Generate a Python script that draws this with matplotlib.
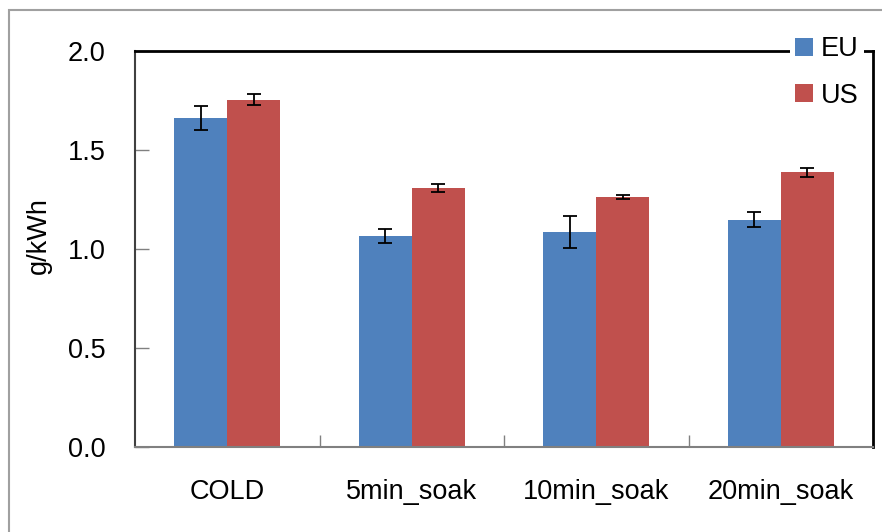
import matplotlib
matplotlib.use('Agg')
import matplotlib.pyplot as plt
import matplotlib.patches as patches
import numpy as np

plt.rcParams['font.family'] = ['Liberation Sans', 'DejaVu Sans']

categories = ['COLD', '5min_soak', '10min_soak', '20min_soak']
eu_values = [1.66, 1.065, 1.085, 1.148]
eu_errors = [0.06, 0.035, 0.08, 0.038]
us_values = [1.755, 1.31, 1.265, 1.388]
us_errors = [0.03, 0.02, 0.01, 0.023]

fs = 19.5

fig = plt.figure(figsize=(8.82, 5.32), dpi=100)
ax = fig.add_axes([135/882, 1-447/532, 738/882, 396/532])

# grey outer frame like the source picture
fig.patches.append(patches.Rectangle((9/882, -0.1), 2, 1.1 - 10/532,
                                     transform=fig.transFigure, fill=False,
                                     edgecolor='#a0a0a0', linewidth=1.5))

x = np.arange(len(categories))
w = 0.287
err_kw = dict(ecolor='black', elinewidth=1.3, capsize=5, capthick=1.3)
ax.bar(x - w/2, eu_values, w, yerr=eu_errors, color='#4F81BD', label='EU',
       error_kw=err_kw, zorder=2)
ax.bar(x + w/2, us_values, w, yerr=us_errors, color='#C0504D', label='US',
       error_kw=err_kw, zorder=2)

ax.set_xlim(-0.5, 3.5)
ax.set_ylim(0, 2.0)
ax.set_yticks([0, 0.5, 1.0, 1.5, 2.0])
ax.set_yticklabels(['0.0', '0.5', '1.0', '1.5', '2.0'])
ax.set_xticks(x)
ax.set_xticklabels(categories)
ax.set_xticks([0.5, 1.5, 2.5], minor=True)
ax.tick_params(axis='x', which='major', length=0, pad=23, labelsize=fs)
ax.tick_params(axis='x', which='minor', direction='in', length=9,
               color='#808080', width=1)
ax.tick_params(axis='y', direction='in', length=10, color='#808080',
               width=1, pad=21, labelsize=fs)

ax.spines['left'].set_color('#404040')
ax.spines['left'].set_linewidth(1.5)
ax.spines['bottom'].set_color('#808080')
ax.spines['bottom'].set_linewidth(1.5)
ax.spines['top'].set_color('black')
ax.spines['top'].set_linewidth(2)
ax.spines['right'].set_color('black')
ax.spines['right'].set_linewidth(2)

ax.set_ylabel('g/kWh', fontsize=fs)
ax.yaxis.set_label_coords(-0.112, 0.535)

leg = ax.legend(loc='upper right', bbox_to_anchor=(864/882, 1-31/532),
                bbox_transform=fig.transFigure, fontsize=fs,
                frameon=True, fancybox=False, framealpha=1,
                handlelength=0.65, handleheight=0.65, handletextpad=0.3,
                labelspacing=0.75, borderpad=0.2, borderaxespad=0)
leg.get_frame().set_edgecolor('none')
leg.get_frame().set_facecolor('white')
leg.set_zorder(5)

fig.savefig('out.png', dpi=100)
